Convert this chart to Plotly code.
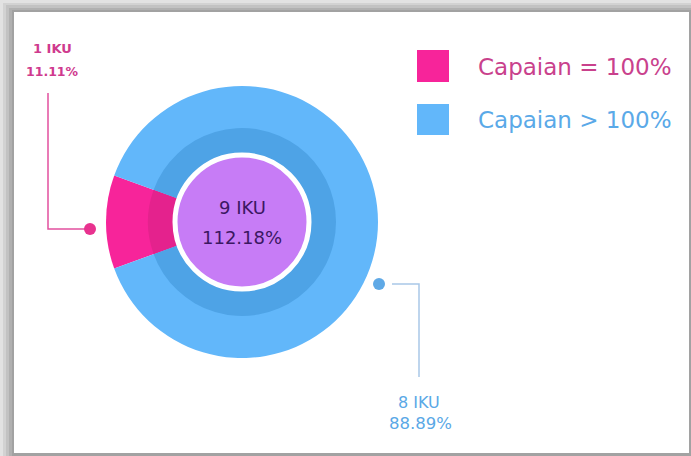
import plotly.graph_objects as go

# ---- data ----
categories = ["Capaian = 100%", "Capaian > 100%"]
iku_counts = [1, 8]
percent_labels = ["11.11%", "88.89%"]
total_iku = 9
total_capaian = "112.18%"

# ---- styles ----
W, H = 691, 456
outer_colors = ["#f7249a", "#62b7fa"]
inner_colors = ["#e4228d", "#4ea3e6"]
legend_text_colors = ["#c9418c", "#5aa9e8"]
purple = "#c77cf6"
center_text = "#3b1762"
FONT = "DejaVu Sans"

def px(x):
    return x / W

def py(y):
    return 1 - y / H

cx, cy = 242, 222

def dom(r):
    return dict(x=[px(cx - r), px(cx + r)], y=[py(cy + r), py(cy - r)])

fig = go.Figure()
# outer ring
fig.add_trace(go.Pie(values=iku_counts, labels=categories, sort=False, direction="clockwise",
                     rotation=250, textinfo="none", hoverinfo="label+value",
                     marker=dict(colors=outer_colors, line=dict(width=0)), domain=dom(136)))
# inner darker ring
fig.add_trace(go.Pie(values=iku_counts, labels=categories, sort=False, direction="clockwise",
                     rotation=250, textinfo="none", hoverinfo="label+value",
                     marker=dict(colors=inner_colors, line=dict(width=0)), domain=dom(94)))
# center disc
fig.add_trace(go.Pie(values=[total_iku], labels=["Total"], sort=False, textinfo="none",
                     marker=dict(colors=[purple], line=dict(color="white", width=5)), domain=dom(67)))

shapes = []
# card with shadow
for x0, y0, c in [(0, 0, "#e2e2e2"), (3, 3, "#d2d2d2"), (6, 5, "#c2c2c2"), (9, 8, "#b0b0b0"), (12, 10, "#a2a2a2")]:
    shapes.append(dict(type="rect", xref="paper", yref="paper", x0=px(x0), y0=py(H), x1=px(W), y1=py(y0),
                       fillcolor=c, line=dict(width=0), layer="below"))
shapes.append(dict(type="rect", xref="paper", yref="paper", x0=px(14), y0=py(453), x1=px(689), y1=py(12),
                   fillcolor="#ffffff", line=dict(width=0), layer="below"))

# leader lines
shapes.append(dict(type="path", xref="paper", yref="paper",
                   path=f"M {px(48)},{py(93)} L {px(48)},{py(229)} L {px(90)},{py(229)}",
                   line=dict(color="#e2509f", width=1.5)))
shapes.append(dict(type="circle", xref="paper", yref="paper", x0=px(84), y0=py(235), x1=px(96), y1=py(223),
                   fillcolor="#e8328f", line=dict(width=0)))
shapes.append(dict(type="path", xref="paper", yref="paper",
                   path=f"M {px(392)},{py(284)} L {px(419)},{py(284)} L {px(419)},{py(377)}",
                   line=dict(color="#a9c7e8", width=1.5)))
shapes.append(dict(type="circle", xref="paper", yref="paper", x0=px(373), y0=py(290), x1=px(385), y1=py(278),
                   fillcolor="#5fa9e6", line=dict(width=0)))

# legend squares
for (y0, y1), c in zip([(50, 82), (104, 135)], outer_colors):
    shapes.append(dict(type="rect", xref="paper", yref="paper", x0=px(417), y0=py(y1), x1=px(449), y1=py(y0),
                       fillcolor=c, line=dict(width=0)))

annotations = []
def ann(text, x, y, size, color, anchor="center", bold=False):
    t = f"<b>{text}</b>" if bold else text
    annotations.append(dict(text=t, x=px(x), y=py(y), xref="paper", yref="paper", showarrow=False,
                            xanchor=anchor, yanchor="middle",
                            font=dict(family=FONT, size=size, color=color)))

ann(f"{total_iku} IKU", cx, 207, 18, center_text)
ann(total_capaian, cx, 238, 18, center_text)
ann(f"{iku_counts[0]} IKU", 52, 48, 13, "#cf3a8e", bold=True)
ann(percent_labels[0], 52, 71, 12.5, "#cf3a8e", bold=True)
ann(f"{iku_counts[1]} IKU", 419, 402, 16, "#5aa8e6")
ann(percent_labels[1], 420, 423, 16.5, "#5aa8e6")
ann(categories[0], 476, 67, 23, legend_text_colors[0], anchor="left")
ann(categories[1], 476, 120, 23, legend_text_colors[1], anchor="left")

fig.update_layout(width=W, height=H, margin=dict(l=0, r=0, t=0, b=0),
                  paper_bgcolor="#e2e2e2", plot_bgcolor="rgba(0,0,0,0)", showlegend=False,
                  shapes=shapes, annotations=annotations)
fig.write_html("out.html")
